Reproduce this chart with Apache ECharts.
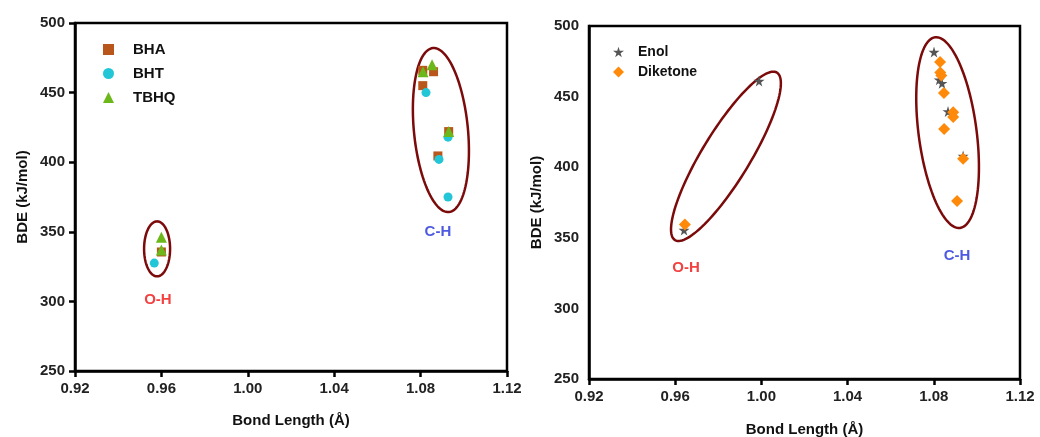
<!DOCTYPE html>
<html>
<head>
<meta charset="utf-8">
<script src="https://cdn.jsdelivr.net/npm/echarts@6/dist/echarts.min.js"></script>
<style>
  html, body { margin: 0; padding: 0; background: #fff; }
  #chart { width: 1040px; height: 437px; }
</style>
</head>
<body>
<div id="chart"></div>
<script>
// left panel: antioxidants
const bha = [[0.960, 335.5], [1.081, 466], [1.086, 465], [1.081, 455], [1.093, 422], [1.088, 404.5]]
const bht = [[0.9567, 327.5], [1.0825, 450], [1.0927, 418], [1.0885, 402], [1.0927, 375]]
const tbhq = [[0.960, 346], [0.960, 337], [1.0853, 470], [1.0811, 465], [1.093, 422]]

// right panel: tautomers
const enol = [[0.9641, 355.5], [0.9989, 461], [1.0801, 481.5], [1.0825, 462], [1.0838, 459.5], [1.0866, 439.5], [1.0936, 408]]
const diketone = [[0.9645, 359.5], [1.0829, 474.5], [1.083, 467], [1.0835, 465], [1.0847, 452.5], [1.089, 439],
  [1.089, 435.5], [1.0848, 427], [1.0936, 406], [1.0908, 376]]

const xTicks = ['0.92', '0.96', '1.00', '1.04', '1.08', '1.12']
const yTicks = [250, 300, 350, 400, 450, 500]

// ellipses: two ends of the long axis (data units) + half width in px
const leftRings = [[1.0857, 482, 1.0931, 364.2, 27], [0.958, 357.5, 0.958, 318, 13]]
const rightRings = [[1.0806, 492, 1.0922, 357, 29], [1.0072, 467, 0.9599, 348.4, 24]]

const leftTags = [{ name: 'O-H', value: [0.9584, 301] }, { name: 'C-H', value: [1.088, 350] }]
const rightTags = [{ name: 'O-H', value: [0.965, 328.6] }, { name: 'C-H', value: [1.0908, 337] }]

const starPath = 'path://M50,0 L61,35 L98,35 L68,57 L79,91 L50,70 L21,91 L32,57 L2,35 L39,35 Z'
const font = 'Liberation Sans, Arial, sans-serif'

const chart = echarts.init(document.getElementById('chart'))

const xAxis = (idx, gap) => ({
  gridIndex: idx,
  type: 'value',
  min: 0.92,
  max: 1.12,
  interval: 0.04,
  name: 'Bond Length (Å)',
  nameLocation: 'middle',
  nameGap: gap,
  nameTextStyle: { color: '#111', fontSize: 15, fontWeight: 'bold', fontFamily: font },
  axisLine: { lineStyle: { color: '#000', width: 2.5 } },
  axisTick: { show: true, length: 6, lineStyle: { color: '#000', width: 2.5 } },
  axisLabel: {
    color: '#222', fontSize: 15, fontWeight: 'bold', fontFamily: font, margin: 10,
    formatter: v => xTicks[Math.round((v - 0.92) / 0.04)]
  },
  splitLine: { show: false }
})

const yAxis = (idx, ticks) => ({
  gridIndex: idx,
  type: 'value',
  min: yTicks[0],
  max: yTicks[yTicks.length - 1],
  interval: 50,
  name: 'BDE (kJ/mol)',
  nameLocation: 'middle',
  nameGap: 45,
  nameTextStyle: { color: '#111', fontSize: 15, fontWeight: 'bold', fontFamily: font },
  axisLine: { show: true, lineStyle: { color: '#000', width: 2.5 } },
  axisTick: { show: ticks, length: 6, lineStyle: { color: '#000', width: 2.5 } },
  axisLabel: { color: '#222', fontSize: 15, fontWeight: 'bold', fontFamily: font, margin: 10 },
  splitLine: { show: false }
})

const ringSeries = (idx, data) => ({
  type: 'custom',
  xAxisIndex: idx,
  yAxisIndex: idx,
  silent: true,
  z: 1,
  data: data,
  encode: { x: [0, 2], y: [1, 3] },
  renderItem: (params, api) => {
    const p1 = api.coord([api.value(0), api.value(1)])
    const p2 = api.coord([api.value(2), api.value(3)])
    const b = api.value(4)
    const cx = (p1[0] + p2[0]) / 2
    const cy = (p1[1] + p2[1]) / 2
    const a = Math.hypot(p2[0] - p1[0], p2[1] - p1[1]) / 2
    const th = Math.atan2(p2[1] - p1[1], p2[0] - p1[0])
    const pts = []
    for (let i = 0; i < 120; i++) {
      const t = i / 120 * Math.PI * 2
      pts.push([
        cx + a * Math.cos(t) * Math.cos(th) - b * Math.sin(t) * Math.sin(th),
        cy + a * Math.cos(t) * Math.sin(th) + b * Math.sin(t) * Math.cos(th)
      ])
    }
    return {
      type: 'polygon',
      shape: { points: pts },
      style: { fill: 'none', stroke: '#7b0a0a', lineWidth: 2.5 }
    }
  }
})

const tagSeries = (idx, data) => ({
  type: 'scatter',
  xAxisIndex: idx,
  yAxisIndex: idx,
  silent: true,
  symbolSize: 0,
  data: data.map(d => ({
    name: d.name,
    value: d.value,
    label: { color: d.name === 'O-H' ? '#f01010' : '#2030d8' }
  })),
  label: { show: true, position: 'inside', formatter: '{b}', fontSize: 15, fontWeight: 'bold', fontFamily: font }
})

const dots = (idx, name, data, symbol, size, color) => ({
  name: name,
  type: 'scatter',
  xAxisIndex: idx,
  yAxisIndex: idx,
  symbol: symbol,
  symbolSize: size,
  itemStyle: { color: color, opacity: 1 },
  z: 3,
  data: data
})

const option = {
  animation: false,
  backgroundColor: '#fff',
  grid: [
    { left: 75, top: 23, width: 432, height: 348, outerBoundsMode: 'none', show: true, borderColor: '#000', borderWidth: 2.5, backgroundColor: 'transparent' },
    { left: 589, top: 26, width: 431, height: 353, outerBoundsMode: 'none', show: true, borderColor: '#000', borderWidth: 2.5, backgroundColor: 'transparent' }
  ],
  legend: [
    {
      data: ['BHA', 'BHT', 'TBHQ'],
      orient: 'vertical',
      left: 98,
      top: 37,
      itemWidth: 11,
      itemHeight: 11,
      itemGap: 9,
      textStyle: { color: '#111', fontSize: 15, fontWeight: 'bold', fontFamily: font, padding: [0, 0, 0, 14] }
    },
    {
      data: ['Enol', 'Diketone'],
      orient: 'vertical',
      left: 608,
      top: 40,
      itemWidth: 11,
      itemHeight: 11,
      itemGap: 6,
      textStyle: { color: '#111', fontSize: 14, fontWeight: 'bold', fontFamily: font, padding: [0, 0, 0, 9] }
    }
  ],
  xAxis: [xAxis(0, 42), xAxis(1, 43)],
  yAxis: [yAxis(0, true), yAxis(1, false)],
  series: [
    ringSeries(0, leftRings),
    ringSeries(1, rightRings),
    dots(0, 'BHA', bha, 'rect', 9, '#b9561c'),
    dots(0, 'BHT', bht, 'circle', 9, '#22c6d6'),
    dots(0, 'TBHQ', tbhq, 'triangle', 11, '#6cb81a'),
    dots(1, 'Enol', enol, starPath, 11, '#555'),
    dots(1, 'Diketone', diketone, 'diamond', 12, '#ff8a0a'),
    tagSeries(0, leftTags),
    tagSeries(1, rightTags)
  ]
}

chart.setOption(option)
</script>
</body>
</html>
